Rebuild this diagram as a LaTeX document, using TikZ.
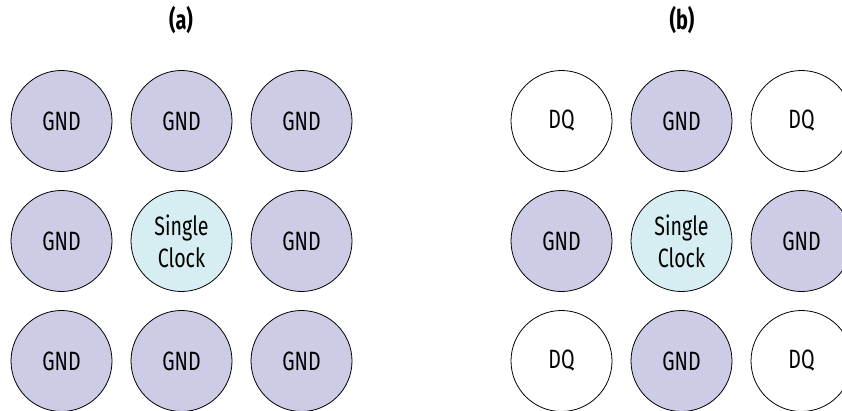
\documentclass[tikz,border=0pt]{standalone}
\usepackage{fontspec}
\setmainfont{Fira Sans}[FakeStretch=0.74]
\begin{document}
\begin{tikzpicture}[x=1pt,y=-1pt,
  pin/.style={circle,draw=black,line width=0.8pt,minimum size=101pt,inner sep=0pt,
    font=\fontsize{26.5}{32}\selectfont,align=center},
  gnd/.style={pin,fill=gndfill},
  clk/.style={pin,fill=clkfill},
  dq/.style={pin,fill=white},
  paneltitle/.style={font=\fontsize{27}{30}\selectfont\bfseries}]
\definecolor{gndfill}{RGB}{204,204,230}
\definecolor{clkfill}{RGB}{214,238,242}
\useasboundingbox (0,0) rectangle (842,410);
\fill[white] (0,0) rectangle (842,410);
% panel titles
\node[paneltitle] (ta) at (181,20) {(a)};
\node[paneltitle] (tb) at (682,20) {(b)};
% panel (a): clock pin surrounded by ground pins
\node[gnd] (a11) at (61.5,121) {GND};
\node[gnd] (a12) at (181.5,121) {GND};
\node[gnd] (a13) at (301.5,121) {GND};
\node[gnd] (a21) at (61.5,241) {GND};
\node[clk] (a22) at (181.5,241) {Single\\Clock};
\node[gnd] (a23) at (301.5,241) {GND};
\node[gnd] (a31) at (61.5,361) {GND};
\node[gnd] (a32) at (181.5,361) {GND};
\node[gnd] (a33) at (301.5,361) {GND};
% panel (b): clock pin with DQ pins on the diagonals
\node[dq]  (b11) at (561.5,121) {DQ};
\node[gnd] (b12) at (681.5,121) {GND};
\node[dq]  (b13) at (801.5,121) {DQ};
\node[gnd] (b21) at (561.5,241) {GND};
\node[clk] (b22) at (681.5,241) {Single\\Clock};
\node[gnd] (b23) at (801.5,241) {GND};
\node[dq]  (b31) at (561.5,361) {DQ};
\node[gnd] (b32) at (681.5,361) {GND};
\node[dq]  (b33) at (801.5,361) {DQ};
\end{tikzpicture}
\end{document}
